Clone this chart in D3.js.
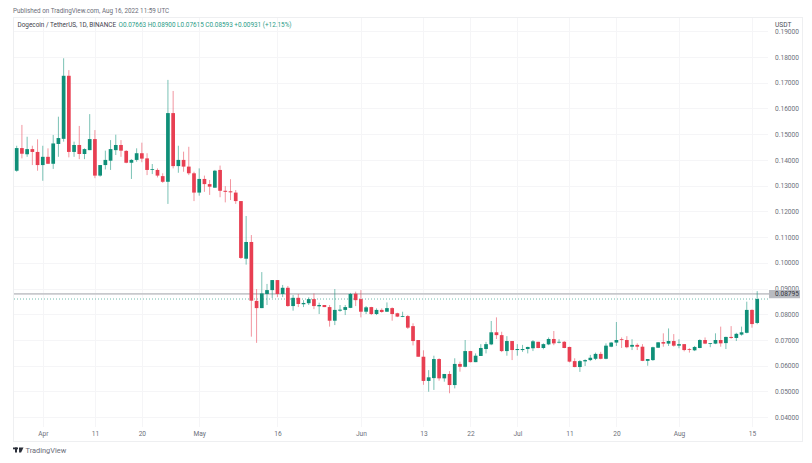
<!DOCTYPE html>
<html>
<head>
<meta charset="utf-8">
<style>
  html, body { margin: 0; padding: 0; background: #fff; }
  text { font-family: Roboto, "Liberation Sans", sans-serif; }
</style>
<script src="https://cdn.jsdelivr.net/npm/d3@7"></script>
</head>
<body>
<div id="chart"></div>
<script>
// daily candles, 27 Mar 2022 to 16 Aug 2022
var startDay = "2022-03-27";

var openVals = [.1358,.1446,.1422,.1442,.1431,.1380,.1412,.1385,.1462,.1482,.1727,.1431,.1458,.1423,.1438,.1481,.1339,.1380,.1397,.1438,
  .1458,.1435,.1389,.1400,.1426,.1406,.1361,.1361,.1337,.1315,.1582,.1376,.1400,.1374,.1348,.1273,.1326,.1306,.1292,.1361,
  .1280,.1278,.1273,.1240,.1016,.1081,.0852,.0824,.0879,.0894,.0933,.0879,.0903,.0832,.0864,.0839,.0843,.0859,.0831,.0836,
  .0828,.0775,.0814,.0817,.0825,.0880,.0859,.0810,.0828,.0801,.0817,.0810,.0824,.0804,.0791,.0793,.0754,.0700,.0635,.0541,
  .0552,.0626,.0551,.0568,.0525,.0607,.0596,.0657,.0614,.0638,.0665,.0683,.0730,.0719,.0657,.0696,.0661,.0661,.0665,.0668,
  .0693,.0669,.0683,.0704,.0690,.0693,.0673,.0618,.0595,.0617,.0622,.0627,.0646,.0627,.0674,.0690,.0703,.0700,.0674,.0681,
  .0674,.0619,.0622,.0670,.0692,.0686,.0696,.0678,.0684,.0665,.0660,.0669,.0700,.0686,.0686,.0700,.0688,.0712,.0708,.0721,
  .0728,.0817,.07663];
var highVals = [.1455,.1536,.1490,.1455,.1480,.1455,.1445,.1497,.1568,.1795,.1749,.1471,.1532,.1445,.1578,.1516,.1380,.1436,.1477,.1498,
  .1477,.1438,.1403,.1445,.1467,.1426,.1384,.1367,.1348,.1711,.1668,.1455,.1432,.1451,.1354,.1367,.1339,.1322,.1361,.1378,
  .1298,.1325,.1283,.1240,.1182,.1108,.0898,.0964,.0918,.0933,.0933,.0914,.0910,.0875,.0879,.0855,.0866,.0881,.0845,.0836,
  .0836,.0898,.0836,.0836,.0883,.0888,.0894,.0832,.0829,.0823,.0823,.0846,.0827,.0806,.0810,.0797,.0765,.0700,.0660,.0583,
  .0639,.0629,.0568,.0579,.0629,.0616,.0700,.0658,.0648,.0684,.0693,.0774,.0788,.0732,.0715,.0696,.0684,.0681,.0674,.0700,
  .0693,.0687,.0710,.0735,.0703,.0696,.0674,.0629,.0622,.0625,.0642,.0651,.0654,.0687,.0692,.0770,.0710,.0715,.0703,.0687,
  .0684,.0626,.0674,.0692,.0726,.0745,.0723,.0703,.0684,.0668,.0677,.0703,.0710,.0688,.0726,.0752,.0713,.0754,.0728,.0752,
  .0849,.0819,.0890];
var lowVals = [.1354,.1406,.1412,.1380,.1358,.1319,.1384,.1365,.1412,.1471,.1410,.1412,.1403,.1403,.1438,.1329,.1335,.1363,.1361,.1419,
  .1412,.1387,.1326,.1393,.1391,.1341,.1345,.1332,.1311,.1229,.1367,.1350,.1354,.1341,.1240,.1261,.1276,.1264,.1292,.1255,
  .1235,.1244,.1229,.1015,.0993,.0713,.0689,.0824,.0836,.0863,.0867,.0867,.0829,.0814,.0828,.0828,.0836,.0820,.0801,.0828,
  .0752,.0758,.0810,.0797,.0824,.0832,.0788,.0801,.0797,.0797,.0806,.0809,.0775,.0789,.0789,.0743,.0679,.0635,.0526,.0499,
  .0506,.0542,.0538,.0493,.0512,.0577,.0594,.0613,.0614,.0638,.0648,.0680,.0704,.0653,.0639,.0622,.0639,.0654,.0648,.0657,
  .0668,.0664,.0680,.0680,.0687,.0668,.0613,.0594,.0576,.0599,.0618,.0622,.0625,.0625,.0672,.0677,.0669,.0668,.0661,.0661,
  .0618,.0600,.0619,.0669,.0674,.0677,.0674,.0668,.0656,.0651,.0657,.0668,.0684,.0672,.0684,.0674,.0665,.0705,.0696,.0717,
  .0726,.0748,.07615];
var closeVals = [.1446,.1424,.1442,.1431,.1380,.1412,.1385,.1464,.1485,.1727,.1431,.1458,.1423,.1442,.1481,.1339,.1380,.1400,.1442,.1458,
  .1436,.1389,.1400,.1426,.1405,.1361,.1364,.1339,.1315,.1582,.1376,.1400,.1374,.1348,.1273,.1326,.1306,.1296,.1358,.1280,
  .1276,.1274,.1240,.1019,.1081,.0853,.0824,.0881,.0894,.0933,.0879,.0903,.0832,.0864,.0840,.0844,.0859,.0832,.0836,.0828,
  .0775,.0817,.0818,.0828,.0879,.0855,.0810,.0827,.0801,.0817,.0809,.0824,.0801,.0791,.0793,.0748,.0696,.0635,.0541,.0555,
  .0626,.0551,.0568,.0525,.0607,.0596,.0657,.0614,.0639,.0669,.0684,.0730,.0719,.0657,.0696,.0661,.0665,.0665,.0673,.0695,
  .0669,.0684,.0704,.0687,.0693,.0669,.0616,.0595,.0618,.0622,.0631,.0646,.0627,.0678,.0690,.0700,.0700,.0672,.0681,.0674,
  .0619,.0626,.0672,.0691,.0686,.0696,.0678,.0684,.0661,.0662,.0673,.0700,.0686,.0688,.0700,.0687,.0712,.0708,.0724,.0730,
  .0817,.0762,.08593];

var priceTicks = [.04,.05,.06,.07,.08,.09,.10,.11,.12,.13,.14,.15,.16,.17,.18,.19];
var dateTicks = ["2022-04-01","2022-04-11","2022-04-20","2022-05-01","2022-05-16","2022-06-01","2022-06-13","2022-06-22","2022-07-01","2022-07-11","2022-07-20","2022-08-01","2022-08-15"];
var dateLabels = ["Apr","11","20","May","16","Jun","13","22","Jul","11","20","Aug","15"];
var markedPrice = 0.08795;

var width = 812, height = 463;
var upColor = "#0f8f78", downColor = "#e83f52";
var bodyW = 3.7;

var svg = d3.select("#chart").append("svg")
  .attr("width", width).attr("height", height)
  .style("display", "block");

var parseDay = d3.utcParse("%Y-%m-%d");
var firstDay = parseDay(startDay);
var days = openVals.map(function(d, i) { return d3.utcDay.offset(firstDay, i); });

// two points: first/last candle and 0.18/0.04 gridlines
var x = d3.scaleUtc().domain([days[0], days[days.length - 1]]).range([16.7, 757.2]);
var y = d3.scaleLinear().domain([0.04, 0.18]).range([417.2, 57]);

// outer frame
svg.append("rect")
  .attr("x", 13.5).attr("y", 17.5).attr("width", 789).attr("height", 424)
  .attr("fill", "none").attr("stroke", "#eeeff1").attr("stroke-width", 1);

// axes, their tick lines stretched to make the grid
var yAxis = d3.axisRight(y).tickValues(priceTicks)
  .tickFormat(d3.format(".5f")).tickSize(754).tickPadding(7);
var yG = svg.append("g").attr("transform", "translate(14,0)").call(yAxis);
yG.select(".domain").remove();
yG.selectAll(".tick line").attr("stroke", "#f5f5f7").attr("shape-rendering", "crispEdges");
yG.selectAll(".tick text").attr("fill", "#6c6f7a").style("font-size", "6.6px");

var xAxis = d3.axisBottom(x).tickValues(dateTicks.map(parseDay))
  .tickFormat(function(d, i) { return dateLabels[i]; }).tickSize(409).tickPadding(4);
var xG = svg.append("g").attr("transform", "translate(0,18)").call(xAxis);
xG.select(".domain").remove();
xG.selectAll(".tick line").attr("stroke", "#f5f5f7").attr("shape-rendering", "crispEdges");
xG.selectAll(".tick text").attr("fill", "#6c6f7a").style("font-size", "6.6px");

// horizontal level + last price dots
svg.append("line")
  .attr("x1", 14).attr("x2", 769)
  .attr("y1", y(markedPrice)).attr("y2", y(markedPrice))
  .attr("stroke", "#c8c9cd").attr("stroke-width", 1.9);
svg.append("line")
  .attr("x1", 14).attr("x2", 769)
  .attr("y1", y(closeVals[closeVals.length - 1])).attr("y2", y(closeVals[closeVals.length - 1]))
  .attr("stroke", "#4aa797").attr("stroke-width", 0.8).attr("stroke-dasharray", "1 2");

// candles
var candles = svg.selectAll("g.candle")
  .data(days)
  .enter()
  .append("g")
  .attr("class", "candle");

candles.append("line")
  .attr("x1", function(d) { return x(d); })
  .attr("x2", function(d) { return x(d); })
  .attr("y1", function(d, i) { return y(highVals[i]); })
  .attr("y2", function(d, i) { return y(lowVals[i]); })
  .attr("stroke", function(d, i) { return closeVals[i] >= openVals[i] ? upColor : downColor; })
  .attr("stroke-opacity", 0.55)
  .attr("stroke-width", 1);

candles.append("rect")
  .attr("x", function(d) { return x(d) - bodyW / 2; })
  .attr("width", bodyW)
  .attr("y", function(d, i) { return y(Math.max(openVals[i], closeVals[i])); })
  .attr("height", function(d, i) { return Math.max(0.8, Math.abs(y(openVals[i]) - y(closeVals[i]))); })
  .attr("fill", function(d, i) { return closeVals[i] >= openVals[i] ? upColor : downColor; });

// price tag
svg.append("rect")
  .attr("x", 769).attr("y", y(markedPrice) - 3.8).attr("width", 31).attr("height", 8.2)
  .attr("fill", "#b8bac0");
svg.append("text")
  .attr("x", 775).attr("y", y(markedPrice) + 2.6)
  .attr("fill", "#33353d").style("font-size", "6.6px")
  .text(d3.format(".5f")(markedPrice));

// header texts
svg.append("text").attr("x", 13).attr("y", 13)
  .attr("fill", "#6a6d78").style("font-size", "6.3px")
  .text("Published on TradingView.com, Aug 16, 2022 11:59 UTC");

var header = svg.append("text").attr("x", 17.5).attr("y", 26.5).style("font-size", "6.4px").attr("fill", "#3f424d");
header.append("tspan").text("Dogecoin / TetherUS, 1D, BINANCE");
header.append("tspan").attr("x", 118.5).attr("fill", "#2b9c87")
  .text("O0.07663  H0.08900  L0.07615  C0.08593  +0.00931 (+12.15%)");

svg.append("text").attr("x", 775).attr("y", 26.5)
  .attr("fill", "#4a4d58").style("font-size", "6.6px").text("USDT");

// footer logo
var logo = svg.append("g").attr("fill", "#2a2e39");
logo.append("rect").attr("x", 13).attr("y", 447.5).attr("width", 5).attr("height", 1.8);
logo.append("rect").attr("x", 15).attr("y", 447.5).attr("width", 2).attr("height", 5);
logo.append("path").attr("d", "M19 447.5h4.5l-2.4 5h-2z");
svg.append("text").attr("x", 25.5).attr("y", 453)
  .attr("fill", "#6a6d78").style("font-size", "7.4px").text("TradingView");
</script>
</body>
</html>
